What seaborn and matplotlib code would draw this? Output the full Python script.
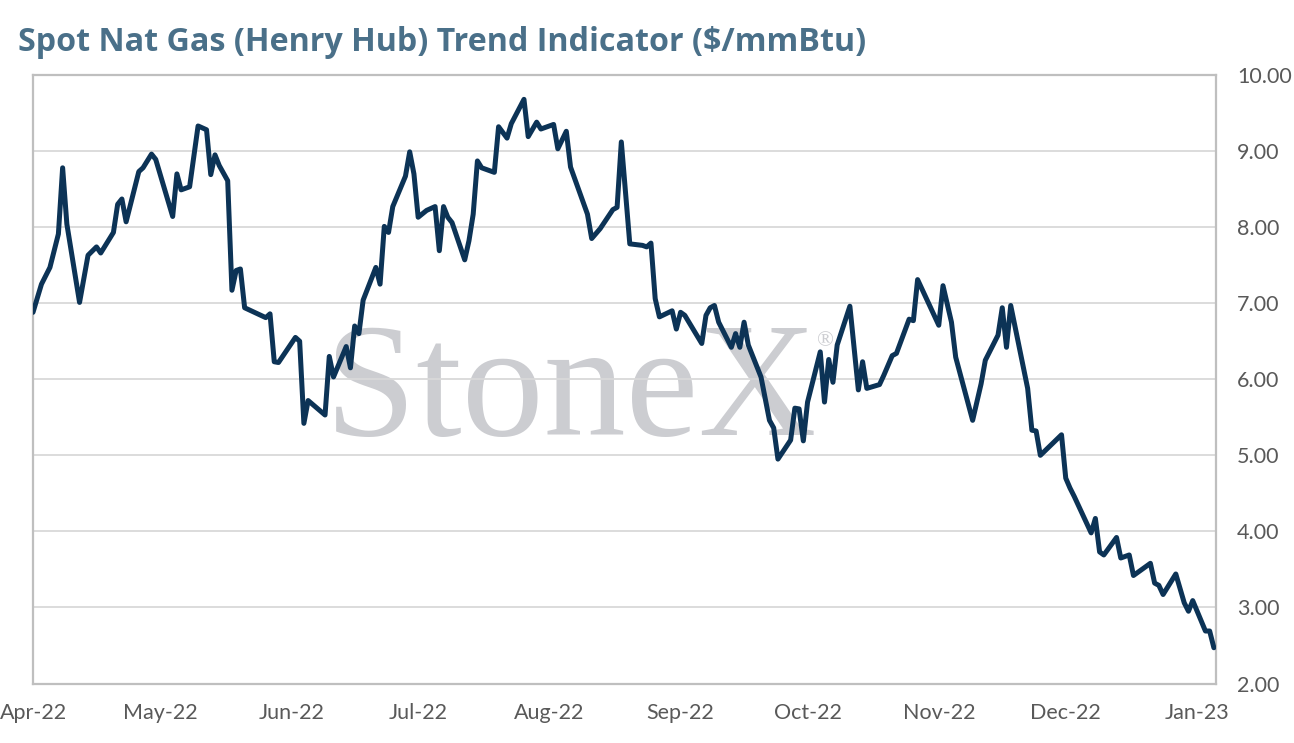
import pandas as pd
import seaborn as sns
import matplotlib.pyplot as plt
import matplotlib.dates as mdates
from matplotlib.ticker import FormatStrFormatter

# Dati: giorni dall'inizio (1 apr 2022) e prezzo spot $/mmBtu
start_date = "2022-04-01"
day_offsets = [
    0, 2, 4, 6, 7, 8, 11, 13, 15, 16, 19, 20, 21, 22, 25, 26, 28, 29,
    33, 34, 35, 37, 39, 41, 42, 43, 44, 46, 47, 48, 49, 50, 55, 56, 57, 58,
    62, 63, 64, 65, 69, 70, 71, 74, 75, 76, 77, 78, 81, 82, 83, 84, 85, 88,
    89, 90, 91, 93, 95, 96, 97, 98, 99, 102, 103, 104, 105, 106, 109, 110,
    112, 113, 116, 117, 119, 120, 123, 124, 126, 127, 131, 132, 134, 137,
    138, 139, 141, 144, 145, 146, 147, 148, 151, 152, 153, 154, 158, 159,
    160, 161, 162, 165, 166, 167, 168, 169, 172, 174, 175, 176, 179, 180,
    181, 182, 183, 186, 187, 188, 189, 190, 193, 195, 196, 197, 200, 201,
    203, 204, 207, 208, 209, 214, 215, 217, 218, 222, 224, 225, 228, 229,
    230, 231, 235, 236, 237, 238, 243, 244, 245, 246, 250, 251, 252, 253,
    256, 257, 259, 260, 264, 265, 266, 267, 270, 272, 273, 274, 277, 278, 279,
]
spot_price = [
    6.88, 7.25, 7.47, 7.91, 8.78, 8.04, 7.01, 7.63, 7.74, 7.66, 7.93, 8.30,
    8.37, 8.07, 8.73, 8.78, 8.96, 8.89, 8.14, 8.70, 8.49, 8.53, 9.33, 9.28,
    8.69, 8.95, 8.81, 8.61, 7.17, 7.43, 7.45, 6.94, 6.81, 6.86, 6.23, 6.22,
    6.55, 6.50, 5.42, 5.72, 5.53, 6.30, 6.03, 6.43, 6.15, 6.70, 6.60, 7.04,
    7.47, 7.25, 8.01, 7.93, 8.27, 8.67, 8.99, 8.70, 8.13, 8.22, 8.27, 7.69,
    8.27, 8.13, 8.06, 7.57, 7.82, 8.17, 8.87, 8.78, 8.72, 9.32, 9.17, 9.36,
    9.68, 9.19, 9.38, 9.29, 9.35, 9.03, 9.26, 8.79, 8.17, 7.85, 7.98, 8.23,
    8.26, 9.12, 7.78, 7.76, 7.74, 7.79, 7.06, 6.82, 6.90, 6.66, 6.88, 6.84,
    6.47, 6.84, 6.94, 6.97, 6.75, 6.42, 6.60, 6.42, 6.75, 6.45, 6.03, 5.46,
    5.36, 4.95, 5.20, 5.62, 5.61, 5.19, 5.70, 6.36, 5.70, 6.26, 5.96, 6.45,
    6.96, 5.86, 6.23, 5.88, 5.93, 6.05, 6.31, 6.34, 6.79, 6.77, 7.31, 6.71,
    7.23, 6.75, 6.29, 5.46, 5.94, 6.25, 6.58, 6.94, 6.42, 6.97, 5.88, 5.33,
    5.32, 5.00, 5.27, 4.70, 4.57, 4.46, 3.98, 4.17, 3.73, 3.69, 3.92, 3.65,
    3.69, 3.42, 3.58, 3.32, 3.29, 3.17, 3.44, 3.06, 2.95, 3.09, 2.69, 2.69, 2.47,
]
y_ticks = [2, 3, 4, 5, 6, 7, 8, 9, 10]

df = pd.DataFrame({
    "date": pd.Timestamp(start_date) + pd.to_timedelta(day_offsets, unit="D"),
    "price": spot_price,
})

sns.set_theme(style="white")
plt.rcParams["font.family"] = ["Lato", "DejaVu Sans"]

fig = plt.figure(figsize=(12.94, 7.43), dpi=100)
ax = fig.add_axes([33 / 1294, 1 - 683.5 / 743, 1183 / 1294, 608.5 / 743])

sns.lineplot(data=df, x="date", y="price", ax=ax, color="#0c3356",
             linewidth=3.6, zorder=3)

# Assi e griglia
ax.set_xlim(pd.Timestamp("2022-04-01"), pd.Timestamp("2023-01-05 12:00"))
ax.set_ylim(2, 10)
ax.set_yticks(y_ticks)
ax.yaxis.set_major_formatter(FormatStrFormatter("%.2f"))
ax.yaxis.tick_right()
ax.xaxis.set_major_locator(mdates.MonthLocator())
ax.xaxis.set_major_formatter(mdates.DateFormatter("%b-%y"))
ax.grid(axis="y", color="#d9d9d9", linewidth=1.3)
ax.set_axisbelow(True)
ax.tick_params(axis="both", length=0, labelsize=15.5, labelcolor="#595959")
ax.tick_params(axis="y", pad=15)
ax.tick_params(axis="x", pad=14)
for side in ["left", "right", "top", "bottom"]:
    ax.spines[side].set_color("#bfbfbf")
    ax.spines[side].set_linewidth(1.6)
ax.set_xlabel("")
ax.set_ylabel("")

# Filigrana
ax.text(0.2468, 0.4084, "StoneX", transform=ax.transAxes, fontsize=118,
        family="Liberation Serif", color="#cccdd1", ha="left",
        va="baseline", zorder=0.1)
ax.text(0.6630, 0.555, "\u00ae", transform=ax.transAxes, fontsize=16,
        family="Liberation Serif", color="#cccdd1", ha="left",
        va="baseline", zorder=0.1)

fig.text(18 / 1294, 1 - 51 / 743, "Spot Nat Gas (Henry Hub) Trend Indicator ($/mmBtu)",
         fontsize=23.2, fontweight="bold", family=["Open Sans", "DejaVu Sans"],
         color="#4a7089", ha="left", va="baseline")

fig.savefig("out.png", dpi=100)
